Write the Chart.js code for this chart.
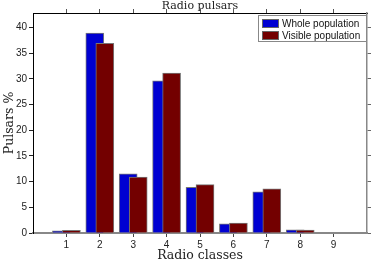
<!DOCTYPE html>
<html>
<head>
<meta charset="utf-8">
<script src="https://cdn.jsdelivr.net/npm/chart.js@4.4.0/dist/chart.umd.min.js"></script>
<style>
  html, body { margin: 0; padding: 0; background: #fff; }
  #wrap { width: 374px; height: 263px; }
</style>
</head>
<body>
<div id="wrap"><canvas id="c" width="374" height="263"></canvas></div>
<script>
// data
const classes = [1, 2, 3, 4, 5, 6, 7, 8, 9];
const wholePop = [0.4, 38.9, 11.5, 29.6, 8.9, 1.8, 8.0, 0.6, 0];
const visiblePop = [0.5, 36.9, 10.9, 31.1, 9.4, 1.95, 8.6, 0.55, 0];
const yTicks = [0, 5, 10, 15, 20, 25, 30, 35, 40];
const seriesLabels = ['Whole population', 'Visible population'];
const seriesColors = ['#0000d2', '#730000'];

const sans = '"Liberation Sans", Arial, sans-serif';
const serif = '"DejaVu Serif", serif';

// legend drawn inside the plot, top right
const boxLegend = {
    id: 'boxLegend',
    afterDraw(chart) {
        const { ctx, chartArea } = chart;
        const w = 109, h = 27;
        const x = chartArea.right - w, y = chartArea.top + 2;
        ctx.save();
        ctx.fillStyle = '#fff';
        ctx.fillRect(x, y, w, h);
        ctx.strokeStyle = '#888';
        ctx.lineWidth = 1;
        ctx.strokeRect(x + 0.5, y + 0.5, w - 1, h - 1);
        ctx.font = '10px ' + sans;
        ctx.textBaseline = 'middle';
        seriesLabels.forEach((lab, i) => {
            const ry = y + 4 + i * 12;
            ctx.fillStyle = seriesColors[i];
            ctx.fillRect(x + 4, ry, 17, 9);
            ctx.strokeStyle = '#666';
            ctx.strokeRect(x + 4.5, ry + 0.5, 16, 8);
            ctx.fillStyle = '#111';
            ctx.fillText(lab, x + 24, ry + 5);
        });
        ctx.restore();
    }
};

const setXTicks = s => { s.ticks = classes.map(v => ({ value: v })); };
const setYTicks = s => { s.ticks = yTicks.map(v => ({ value: v })); };

// tick marks only, pointing outwards
const tickGrid = color => ({
    drawOnChartArea: false, drawTicks: true, offset: false,
    tickLength: 4, tickWidth: 1, tickColor: color, color: color, lineWidth: 1
});

new Chart(document.getElementById('c'), {
    type: 'bar',
    data: {
        datasets: [{
            label: seriesLabels[0],
            data: classes.map((c, i) => ({ x: c, y: wholePop[i] })),
            xAxisID: 'xb',
            backgroundColor: seriesColors[0],
            borderColor: '#777',
            borderWidth: 1,
            barThickness: 18,
            grouped: false,
            order: 2
        }, {
            label: seriesLabels[1],
            data: classes.map((c, i) => ({ x: c, y: visiblePop[i] })),
            xAxisID: 'xr',
            backgroundColor: seriesColors[1],
            borderColor: '#777',
            borderWidth: 1,
            barThickness: 18,
            grouped: false,
            order: 1
        }]
    },
    options: {
        responsive: false,
        animation: false,
        devicePixelRatio: 1,
        layout: { padding: 0 },
        plugins: {
            legend: { display: false },
            tooltip: { enabled: false }
        },
        scales: {
            // hidden axes shift the two series left / right of each class
            xb: { type: 'linear', display: false, offset: false, grid: { offset: false }, min: 0.15, max: 10.15 },
            xr: { type: 'linear', display: false, offset: false, grid: { offset: false }, min: -0.15, max: 9.85 },
            x: {
                type: 'linear', position: 'bottom', min: 0, max: 10, offset: false,
                afterBuildTicks: setXTicks,
                afterFit: s => { s.height = 30; },
                grid: tickGrid('#444'),
                border: { color: '#888', width: 2 },
                ticks: { font: { family: sans, size: 10 }, color: '#222', padding: 2, maxRotation: 0 },
                title: {
                    display: true, text: 'Radio classes', color: '#222',
                    font: { family: serif, size: 12.5, lineHeight: 1.2 },
                    padding: { top: 0, bottom: 0 }
                }
            },
            x2: {
                type: 'linear', position: 'top', min: 0, max: 10, offset: false,
                afterBuildTicks: setXTicks,
                afterFit: s => { s.height = 13; },
                grid: tickGrid('#555'),
                border: { color: '#000', width: 1 },
                ticks: { callback: () => '', padding: 0 },
                title: {
                    display: true, text: 'Radio pulsars', color: '#222',
                    font: { family: serif, size: 11, lineHeight: 1 },
                    padding: { top: 1, bottom: 0 }
                }
            },
            y: {
                type: 'linear', position: 'left', min: 0, max: 42.8,
                afterBuildTicks: setYTicks,
                afterFit: s => { s.width = 33; },
                grid: tickGrid('#222'),
                border: { color: '#000', width: 1 },
                ticks: { font: { family: sans, size: 10 }, color: '#222', padding: 2 },
                title: {
                    display: true, text: 'Pulsars %', color: '#222',
                    font: { family: serif, size: 12.5, lineHeight: 1.2 },
                    padding: { top: 2, bottom: 0 }
                }
            },
            y2: {
                type: 'linear', position: 'right', min: 0, max: 42.8,
                afterBuildTicks: setYTicks,
                afterFit: s => { s.width = 7; },
                grid: tickGrid('#666'),
                border: { color: '#888', width: 1.5 },
                ticks: { callback: () => '', padding: 0 }
            }
        }
    },
    plugins: [boxLegend]
});
</script>
</body>
</html>
